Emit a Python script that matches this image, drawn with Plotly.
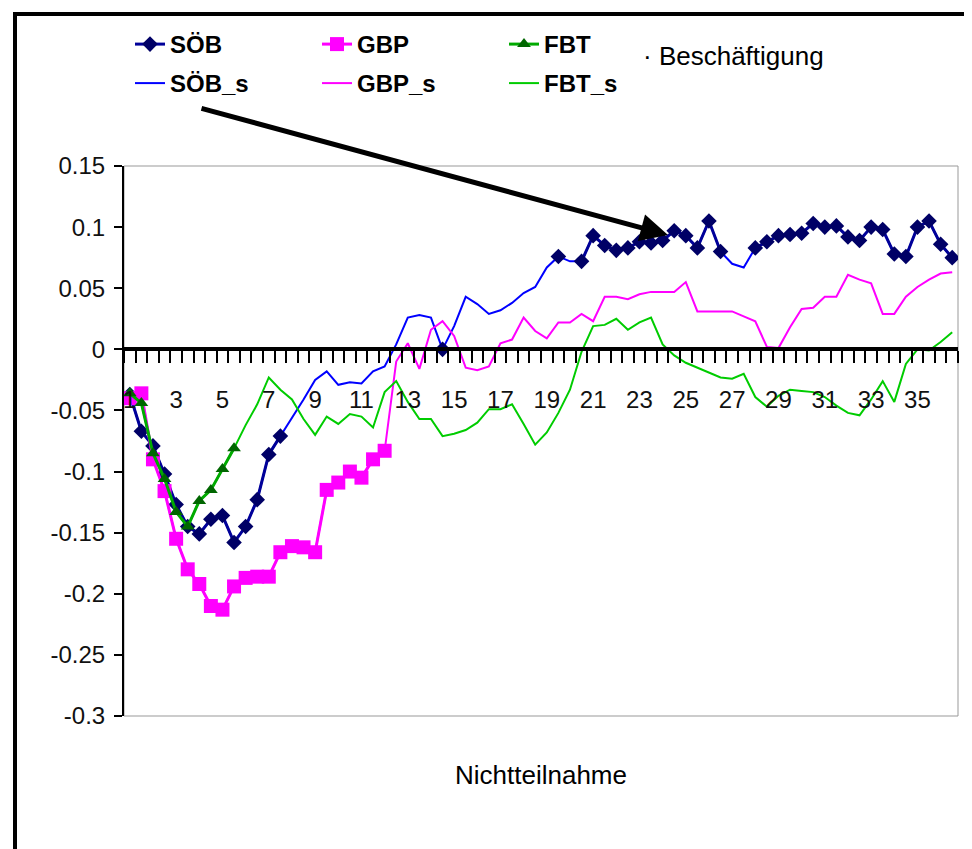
import plotly.graph_objects as go

# ---------------- data ----------------
x_cat = [1, 1.5, 2, 2.5, 3, 3.5, 4, 4.5, 5, 5.5, 6, 6.5, 7, 7.5, 8, 8.5, 9, 9.5,
         10, 10.5, 11, 11.5, 12, 12.5, 13, 13.5, 14, 14.5, 15, 15.5, 16, 16.5, 17, 17.5,
         18, 18.5, 19, 19.5, 20, 20.5, 21, 21.5, 22, 22.5, 23, 23.5, 24, 24.5, 25, 25.5,
         26, 26.5, 27, 27.5, 28, 28.5, 29, 29.5, 30, 30.5, 31, 31.5, 32, 32.5, 33, 33.5,
         34, 34.5, 35, 35.5, 36, 36.5]

soeb_s = [-0.037, -0.067, -0.079, -0.102, -0.127, -0.145, -0.151, -0.139, -0.136, -0.158,
          -0.145, -0.123, -0.086, -0.071, -0.057, -0.041, -0.025, -0.018, -0.029, -0.027,
          -0.028, -0.018, -0.014, 0.004, 0.026, 0.028, 0.026, 0.000, 0.019, 0.043,
          0.037, 0.029, 0.032, 0.038, 0.046, 0.051, 0.067, 0.076, 0.072, 0.072,
          0.093, 0.085, 0.081, 0.083, 0.088, 0.087, 0.089, 0.097, 0.093, 0.083,
          0.105, 0.080, 0.070, 0.067, 0.083, 0.088, 0.093, 0.094, 0.095, 0.103,
          0.100, 0.101, 0.092, 0.089, 0.100, 0.098, 0.078, 0.076, 0.100, 0.105,
          0.086, 0.075]

gbp_s = [-0.040, -0.036, -0.090, -0.116, -0.155, -0.180, -0.192, -0.210, -0.213, -0.194,
         -0.187, -0.186, -0.186, -0.166, -0.161, -0.162, -0.166, -0.115, -0.109, -0.100,
         -0.105, -0.090, -0.083, -0.010, 0.005, -0.016, 0.016, 0.023, 0.011, -0.015,
         -0.017, -0.014, 0.005, 0.008, 0.026, 0.015, 0.009, 0.022, 0.022, 0.029,
         0.023, 0.043, 0.043, 0.041, 0.045, 0.047, 0.047, 0.047, 0.055, 0.031,
         0.031, 0.031, 0.031, 0.027, 0.023, 0.002, 0.001, 0.018, 0.033, 0.034,
         0.043, 0.043, 0.061, 0.057, 0.054, 0.029, 0.029, 0.043, 0.051, 0.057,
         0.062, 0.063]

fbt_s = [-0.036, -0.044, -0.085, -0.106, -0.133, -0.145, -0.124, -0.115, -0.098, -0.081,
         -0.062, -0.045, -0.023, -0.033, -0.041, -0.057, -0.070, -0.055, -0.061, -0.053,
         -0.055, -0.064, -0.035, -0.026, -0.043, -0.057, -0.057, -0.071, -0.069, -0.066,
         -0.060, -0.049, -0.049, -0.045, -0.061, -0.078, -0.068, -0.052, -0.033, -0.002,
         0.019, 0.020, 0.025, 0.016, 0.022, 0.026, 0.004, -0.005, -0.011, -0.015,
         -0.019, -0.023, -0.024, -0.020, -0.039, -0.047, -0.038, -0.033, -0.034, -0.035,
         -0.039, -0.046, -0.052, -0.054, -0.041, -0.026, -0.043, -0.012, 0.000, -0.001,
         0.006, 0.014]

# significance flags (1 = drawn with markers)
soeb_sig = [1]*14 + [0]*13 + [1] + [0]*9 + [1, 0] + [1]*13 + [0, 0] + [1]*18
gbp_sig = [1]*23 + [0]*49
fbt_sig = [1]*10 + [0]*62

x_labels = [1, 3, 5, 7, 9, 11, 13, 15, 17, 19, 21, 23, 25, 27, 29, 31, 33, 35]
x_bounds = [0.75 + 0.5 * k for k in range(73)]
y_ticks = [-0.3, -0.25, -0.2, -0.15, -0.1, -0.05, 0, 0.05, 0.1, 0.15]
y_text = ['-0.3', '-0.25', '-0.2', '-0.15', '-0.1', '-0.05', '0', '0.05', '0.1', '0.15']


def masked(vals, flags):
    return [v if f else None for v, f in zip(vals, flags)]


FONT = "Liberation Sans, Arial, sans-serif"

fig = go.Figure()

# thin full series
fig.add_trace(go.Scatter(x=x_cat, y=soeb_s, name="SÖB_s", mode="lines",
                         line=dict(color="#0000FF", width=2), legend="legend2"))
fig.add_trace(go.Scatter(x=x_cat, y=gbp_s, name="GBP_s", mode="lines",
                         line=dict(color="#FF00FF", width=2), legend="legend2"))
fig.add_trace(go.Scatter(x=x_cat, y=fbt_s, name="FBT_s", mode="lines",
                         line=dict(color="#00CC00", width=2), legend="legend2"))

# significant series with markers
fig.add_trace(go.Scatter(x=x_cat, y=masked(soeb_s, soeb_sig), name="SÖB", mode="lines+markers",
                         line=dict(color="#000099", width=3),
                         marker=dict(symbol="diamond", size=12, color="#000066"),
                         connectgaps=False, legend="legend"))
fig.add_trace(go.Scatter(x=x_cat, y=masked(gbp_s, gbp_sig), name="GBP", mode="lines+markers",
                         line=dict(color="#FF00FF", width=3),
                         marker=dict(symbol="square", size=14, color="#FF00FF"),
                         connectgaps=False, legend="legend"))
fig.add_trace(go.Scatter(x=x_cat, y=masked(fbt_s, fbt_sig), name="FBT", mode="lines+markers",
                         line=dict(color="#00AA00", width=3),
                         marker=dict(symbol="triangle-up", size=12, color="#006600"),
                         connectgaps=False, legend="legend"))

# page has an 8px body margin: work in page coordinates, convert to canvas
OFF = 8
W, H = 972 - OFF, 849 - OFF
PL, PR, PT, PB = 124, 958, 166, 716          # plot area in page pixels
L, T = PL - OFF, PT - OFF
R, B = W - (PR - OFF), H - (PB - OFF)
pw, ph = W - L - R, H - T - B


def px(xp):
    return (xp - PL) / pw


def py(yp):
    return (PB - yp) / ph


legend_common = dict(orientation="h", xanchor="left", yanchor="top",
                     font=dict(family=FONT, size=24, color="black", weight="bold"),
                     entrywidth=142, entrywidthmode="pixels",
                     bgcolor="rgba(0,0,0,0)", borderwidth=0, traceorder="normal")

fig.update_layout(
    width=W, height=H,
    margin=dict(l=L, r=R, t=T, b=B, autoexpand=False),
    paper_bgcolor="white", plot_bgcolor="white",
    font=dict(family=FONT, size=24, color="black"),
    showlegend=True,
    legend=dict(x=px(130), y=py(22), **legend_common),
    legend2=dict(x=px(130), y=py(61), **legend_common),
    xaxis=dict(range=[0.75, 36.75], anchor="free", position=0.3 / 0.45,
               showline=True, linecolor="black", linewidth=4,
               showgrid=False, zeroline=False,
               tickmode="array", tickvals=x_labels, ticktext=[str(v) for v in x_labels],
               ticks="outside", ticklen=1, tickcolor="rgba(0,0,0,0)",
               ticklabelstandoff=27,
               tickfont=dict(family=FONT, size=24, color="#111"),
               minor=dict(tickmode="array", tickvals=x_bounds, ticks="outside",
                          ticklen=12, tickwidth=2, tickcolor="black", showgrid=False)),
    yaxis=dict(range=[-0.3, 0.15], showline=True, linecolor="black", linewidth=2,
               showgrid=False, zeroline=False,
               tickmode="array", tickvals=y_ticks, ticktext=y_text,
               ticks="outside", ticklen=8, tickwidth=2, tickcolor="black",
               ticklabelstandoff=4,
               tickfont=dict(family=FONT, size=24, color="#111")),
    shapes=[
        dict(type="rect", xref="paper", yref="paper", x0=0, x1=1, y0=0, y1=1,
             line=dict(color="#999999", width=1), layer="below"),
        dict(type="rect", xref="paper", yref="paper", x0=px(15), x1=px(990),
             y0=py(870), y1=py(14), line=dict(color="black", width=4)),
    ],
    annotations=[
        dict(text="Nichtteilnahme", xref="paper", yref="paper", x=0.5, y=py(775),
             showarrow=False, xanchor="center", yanchor="middle",
             font=dict(family=FONT, size=26, color="black")),
        dict(text="· Beschäftigung", xref="paper", yref="paper", x=px(641), y=py(56),
             showarrow=False, xanchor="left", yanchor="middle",
             font=dict(family=FONT, size=26, color="black")),
        dict(text="", xref="paper", yref="paper", x=px(668), y=py(235),
             ax=200 - 668, ay=108 - 235, axref="pixel", ayref="pixel",
             showarrow=True, arrowhead=2, arrowsize=1.1, arrowwidth=5, arrowcolor="black"),
    ],
)

fig.write_html("out.html")
